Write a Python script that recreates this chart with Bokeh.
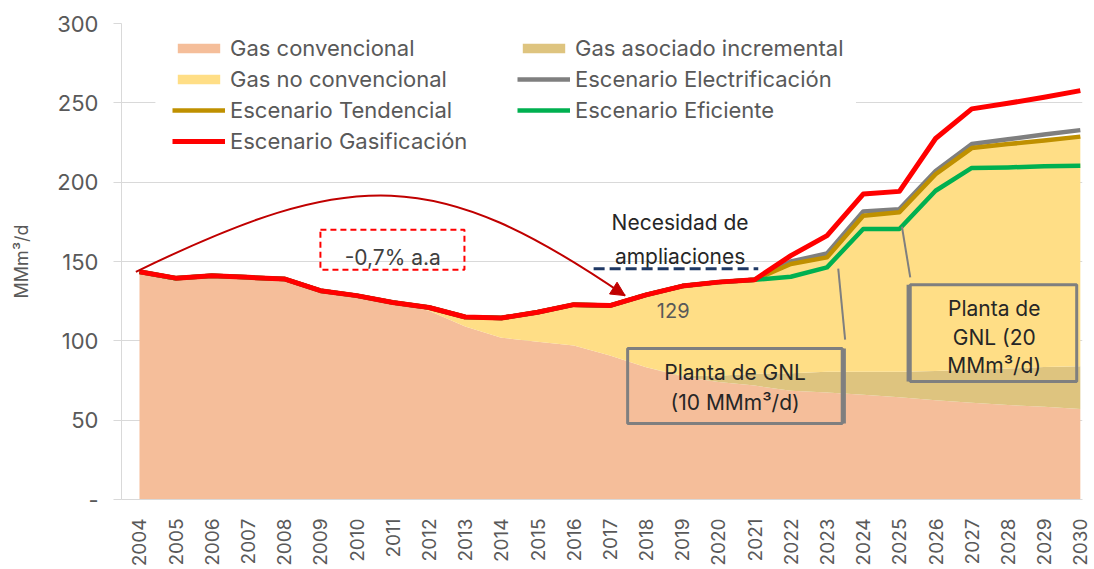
import math
from bokeh.plotting import figure
from bokeh.models import (ColumnDataSource, Range1d, FixedTicker, Legend, LegendItem,
                          BoxAnnotation, Arrow, NormalHead)
from bokeh.core.properties import value
from bokeh.embed import file_html
from bokeh.resources import INLINE

# ---------------- data ----------------
years = [2004, 2005, 2006, 2007, 2008, 2009, 2010, 2011, 2012, 2013, 2014, 2015, 2016,
         2017, 2018, 2019, 2020, 2021, 2022, 2023, 2024, 2025, 2026, 2027, 2028, 2029, 2030]

# historical demand 2004-2021 (common to all scenarios)
historico = [143.5, 139.5, 141.0, 140.0, 139.0, 131.6, 128.5, 124.2, 121.0, 115.0, 114.4,
             118.0, 122.8, 122.2, 129.0, 134.5, 137.0, 138.5]
# projections 2022-2030
gasificacion_proj = [153.7, 166.3, 192.5, 194.2, 227.5, 246.2, 249.7, 253.5, 257.7]
electrificacion_proj = [150.0, 155.0, 181.5, 183.0, 207.0, 224.0, 227.0, 230.0, 232.8]
tendencial_proj = [148.4, 152.6, 178.8, 181.0, 205.0, 221.5, 224.0, 226.2, 228.7]
eficiente_proj = [140.4, 146.3, 170.5, 170.5, 194.6, 209.0, 209.3, 210.0, 210.4]

# supply (stacked areas)
gas_convencional = [143.5, 139.5, 141.0, 140.0, 139.0, 131.6, 128.5, 124.2, 119.0, 109.0,
                    102.0, 99.5, 97.0, 90.7, 83.4, 77.5, 74.0, 71.8, 68.5, 67.5, 66.0,
                    64.5, 62.5, 61.0, 59.5, 58.5, 57.0]
gas_asociado_incremental = [0, 0, 0, 0, 0, 0, 0, 0, 0, 0, 0, 0, 0, 0, 0, 0.5, 4.0, 7.5,
                            11.0, 13.0, 14.5, 16.0, 18.5, 21.0, 23.0, 25.0, 27.0]
gas_no_convencional = [0, 0, 0, 0, 0, 0, 0, 0, 2.0, 6.0, 12.4, 18.5, 25.8, 31.5, 45.6,
                       56.5, 59.0, 59.2, 68.9, 72.1, 98.3, 100.5, 124.0, 139.5, 141.5,
                       142.7, 144.7]

y_ticks = [0, 50, 100, 150, 200, 250, 300]
y_tick_labels = {0: "-"}

src = ColumnDataSource(dict(
    year=years,
    conv=gas_convencional,
    asoc=gas_asociado_incremental,
    noconv=gas_no_convencional,
    gasif=historico + gasificacion_proj,
    elec=historico + electrificacion_proj,
    tend=historico + tendencial_proj,
    efic=historico + eficiente_proj,
))

# ---------------- styles ----------------
FONT = "Inter"
C_CONV = "#F5BE9A"
C_ASOC = "#DEC47F"
C_NOCONV = "#FFDE86"
C_GRAY = "#7F7F7F"
C_BROWN = "#BF9000"
C_GREEN = "#00B050"
C_RED = "#FF0000"
C_DARKRED = "#C00000"
TXT = "#595959"
DARK = "#262626"

p = figure(width=1094, height=569, output_backend="svg", toolbar_location=None,
           x_range=Range1d(2003.503, 2030.06), y_range=Range1d(0, 300),
           min_border_left=121, min_border_right=12, min_border_top=23,
           min_border_bottom=70)
p.outline_line_color = None
p.background_fill_color = "white"
p.border_fill_color = "white"

p.xgrid.visible = False
p.ygrid.grid_line_color = "#D9D9D9"
p.ygrid.grid_line_width = 1

p.yaxis.ticker = FixedTicker(ticks=y_ticks, minor_ticks=[])
p.yaxis.major_label_overrides = y_tick_labels
p.yaxis.axis_line_color = "#D9D9D9"
p.yaxis.major_tick_line_color = "#D9D9D9"
p.yaxis.major_tick_out = 8
p.yaxis.major_tick_in = 0
p.yaxis.minor_tick_line_color = None
p.yaxis.major_label_standoff = 15
p.yaxis.major_label_text_font = FONT
p.yaxis.major_label_text_font_size = "22px"
p.yaxis.major_label_text_color = TXT
p.yaxis.axis_label = "MMm³/d"
p.yaxis.axis_label_text_font = FONT
p.yaxis.axis_label_text_font_size = "18px"
p.yaxis.axis_label_text_font_style = "normal"
p.yaxis.axis_label_text_color = TXT
p.yaxis.axis_label_standoff = 22

p.xaxis.ticker = FixedTicker(ticks=years, minor_ticks=[])
p.xaxis.axis_line_color = "#D9D9D9"
p.xaxis.major_tick_line_color = None
p.xaxis.minor_tick_line_color = None
p.xaxis.major_label_orientation = math.pi / 2
p.xaxis.major_label_standoff = 13
p.xaxis.major_label_text_font = FONT
p.xaxis.major_label_text_font_size = "19px"
p.xaxis.major_label_text_color = TXT

# white backdrop behind the legend (hides the gridline)
p.quad(left=[2004.44], right=[2023.8], bottom=[215], top=[297],
       fill_color="white", line_color=None)

# stacked supply areas
r_conv, r_asoc, r_noconv = p.varea_stack(["conv", "asoc", "noconv"], x="year", source=src,
                                          color=[C_CONV, C_ASOC, C_NOCONV])

# scenario lines
r_elec = p.line("year", "elec", source=src, line_color=C_GRAY, line_width=4.5, line_join="round")
r_tend = p.line("year", "tend", source=src, line_color=C_BROWN, line_width=4.5, line_join="round")
r_efic = p.line("year", "efic", source=src, line_color=C_GREEN, line_width=4.5, line_join="round")
r_gasif = p.line("year", "gasif", source=src, line_color=C_RED, line_width=5, line_join="round")

# ---------------- annotations ----------------
# curved arrow (-0,7% a.a)
p.bezier(x0=[2003.9], y0=[143.5], x1=[2017.42], y1=[128.5],
         cx0=[2009.9], cy0=[210], cx1=[2012.2], cy1=[210],
         line_color=C_DARKRED, line_width=2)
p.add_layout(Arrow(end=NormalHead(size=14, fill_color=C_DARKRED, line_color=C_DARKRED),
                   x_start=2017.19, y_start=131.85, x_end=2017.42, y_end=128.5,
                   line_color=C_DARKRED, line_width=2))
p.add_layout(BoxAnnotation(left=2009.0, right=2012.98, bottom=144.8, top=170.0,
                           fill_alpha=0, line_color=C_RED, line_alpha=1.0,
                           line_dash="6 4", line_width=2))
p.text(x=[2011.0], y=[152.4], text=["-0,7% a.a"], text_font=value(FONT),
       text_font_size="21px", text_color="#404040", text_align="center",
       text_baseline="middle")

# Necesidad de ampliaciones
p.text(x=[2018.94, 2018.94], y=[174.5, 153.0], text=["Necesidad de", "ampliaciones"],
       text_font=value(FONT), text_font_size="21px", text_color=DARK,
       text_align="center", text_baseline="middle")
p.segment(x0=[2016.55], y0=[145.5], x1=[2021.1], y1=[145.5], line_color="#1F3864",
          line_width=3, line_dash="11 5")

p.text(x=[2018.75], y=[119.0], text=["129"], text_font=value(FONT), text_font_size="20px",
       text_color=TXT, text_align="center", text_baseline="middle")

# GNL 10 box
p.add_layout(BoxAnnotation(left=2017.49, right=2023.42, bottom=47.9, top=95.1,
                           fill_alpha=0, line_color=C_GRAY, line_alpha=1.0, line_width=3))
p.segment(x0=[2023.48], y0=[47.9], x1=[2023.48], y1=[95.1], line_color=C_GRAY, line_width=3)
p.segment(x0=[2023.5], y0=[100.8], x1=[2023.31], y1=[145.5], line_color=C_GRAY, line_width=2)
p.text(x=[2020.46, 2020.46], y=[80.2, 61.3], text=["Planta de GNL", "(10 MMm³/d)"],
       text_font=value(FONT), text_font_size="21px", text_color=DARK,
       text_align="center", text_baseline="middle")

# GNL 20 box
p.add_layout(BoxAnnotation(left=2025.3, right=2029.9, bottom=74.3, top=135.4,
                           fill_alpha=0, line_color=C_GRAY, line_alpha=1.0, line_width=3))
p.segment(x0=[2025.24], y0=[74.3], x1=[2025.24], y1=[135.4], line_color=C_GRAY, line_width=3)
p.segment(x0=[2025.3], y0=[140.0], x1=[2025.07], y1=[172.0], line_color=C_GRAY, line_width=2)
p.text(x=[2027.62, 2027.62, 2027.62], y=[120.3, 102.2, 84.4],
       text=["Planta de", "GNL (20", "MMm³/d)"],
       text_font=value(FONT), text_font_size="21px", text_color=DARK,
       text_align="center", text_baseline="middle")

# ---------------- legends ----------------
def make_legend(items, loc):
    lg = Legend(items=items, location=loc, orientation="vertical",
                glyph_width=53, glyph_height=12, label_height=26, spacing=5,
                padding=0, margin=0, label_standoff=5,
                label_text_font=FONT, label_text_font_size="22px",
                label_text_color=TXT, background_fill_alpha=0,
                border_line_alpha=0)
    return lg

left_items = [LegendItem(label="Gas convencional", renderers=[r_conv]),
              LegendItem(label="Gas no convencional", renderers=[r_noconv]),
              LegendItem(label="Escenario Tendencial", renderers=[r_tend]),
              LegendItem(label="Escenario Gasificación", renderers=[r_gasif])]
right_items = [LegendItem(label="Gas asociado incremental", renderers=[r_asoc]),
               LegendItem(label="Escenario Electrificación", renderers=[r_elec]),
               LegendItem(label="Escenario Eficiente", renderers=[r_efic])]
p.add_layout(make_legend(left_items, (51, 345)))
p.add_layout(make_legend(right_items, (396, 376)))

open("out.html", "w").write(file_html(p, INLINE))
